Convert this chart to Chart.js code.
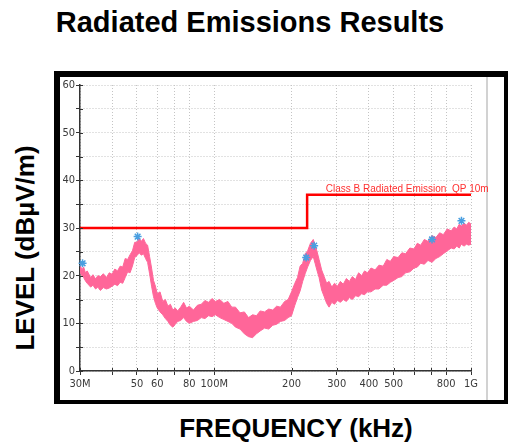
<!DOCTYPE html>
<html>
<head>
<meta charset="utf-8">
<title>Radiated Emissions Results</title>
<script src="https://cdn.jsdelivr.net/npm/chart.js@4.4.0/dist/chart.umd.min.js"></script>
<style>
  html, body { margin: 0; padding: 0; background: #fff; }
  body { width: 508px; height: 445px; position: relative; overflow: hidden; font-family: "Liberation Sans", Arial, sans-serif; }
  .lbl { position: absolute; font-weight: bold; color: #000; white-space: nowrap; line-height: 1; }
  #title { left: 250px; top: 8px; font-size: 29px; transform: translateX(-50%); }
  #ytitle { left: 25px; top: 248px; font-size: 26px; transform: translate(-50%, -50%) rotate(-90deg); }
  #xtitle { left: 296px; top: 415px; font-size: 26px; transform: translateX(-50%); }
  #frame { position: absolute; left: 54px; top: 71px; width: 444px; height: 323px;
           border-style: solid; border-color: #000; border-width: 6px 4px 4px 6px; }
  canvas { display: block; }
</style>
</head>
<body>

<div id="title" class="lbl">Radiated Emissions Results</div>
<div id="ytitle" class="lbl">LEVEL (dBµV/m)</div>
<div id="xtitle" class="lbl">FREQUENCY (kHz)</div>
<div id="frame"><canvas id="chart" width="444" height="323"></canvas></div>

<script>
/* =============================
   DATA
============================= */

// trace: upper / lower edge of the measured band (MHz, dBuV/m)
const freqMHz = [
    30, 30.5, 31, 31.5, 32, 33, 33.7, 34.5, 35.2, 36,
    37, 38, 39, 40, 41, 42, 43, 44, 45, 46,
    47, 48, 49, 50, 51, 52, 53, 54, 55, 56,
    57, 58, 59, 60, 61.5, 63, 64.5, 66, 67.5, 69,
    70.5, 72, 74, 76, 78, 80, 83, 86, 89, 92,
    95, 98, 101, 105, 109, 113, 117, 121, 126, 131,
    136, 141, 146, 151, 157, 163, 169, 175, 181, 188,
    194, 200, 206, 211, 216, 221, 226, 231, 237, 243,
    247, 251, 256, 262, 268, 274, 280, 287, 294, 302,
    310, 318, 327, 336, 345, 355, 365, 375, 385, 395,
    408, 423, 438, 455, 470, 485, 500, 520, 538, 556,
    578, 600, 618, 637, 658, 680, 705, 730, 755, 780,
    808, 837, 860, 880, 900, 916, 940, 960, 980, 1000
];

const levelHigh = [
    22.4, 21.2, 21.8, 20.6, 21.0, 19.6, 20.2, 19.3, 20.0, 19.8,
    20.4, 19.6, 20.6, 20.3, 21.4, 21.0, 22.0, 21.8, 23.6, 23.4,
    24.4, 25.2, 27.0, 27.0, 27.8, 27.2, 27.8, 26.8, 26.4, 24.0,
    21.6, 19.0, 17.8, 16.2, 16.6, 14.6, 15.0, 13.6, 14.0, 12.8,
    13.2, 12.6, 13.4, 14.4, 13.2, 13.6, 12.8, 13.8, 14.0, 14.8,
    14.4, 15.2, 14.6, 15.0, 14.2, 14.6, 13.4, 13.4, 12.2, 12.4,
    11.2, 11.8, 11.6, 12.6, 12.4, 13.0, 12.8, 13.6, 13.4, 14.6,
    15.0, 16.6, 18.4, 19.6, 22.0, 22.6, 24.6, 25.2, 26.8, 27.6,
    26.4, 25.2, 23.4, 21.2, 19.8, 18.4, 18.8, 17.6, 18.4, 17.8,
    18.8, 18.2, 19.4, 18.8, 19.8, 19.2, 20.6, 20.0, 21.0, 20.6,
    21.6, 21.2, 22.2, 22.0, 23.4, 23.0, 24.0, 23.8, 24.8, 24.6,
    25.8, 25.6, 26.8, 26.4, 27.6, 27.2, 28.4, 28.0, 29.0, 28.6,
    29.8, 29.4, 30.2, 29.8, 30.8, 30.4, 31.0, 30.6, 31.2, 30.8
];

const levelLow = [
    20.8, 20.0, 19.6, 18.9, 18.4, 17.6, 18.0, 17.2, 17.6, 16.9,
    17.5, 17.2, 17.4, 17.8, 18.2, 17.9, 18.6, 18.4, 19.6, 20.8,
    20.6, 22.0, 23.8, 24.2, 24.8, 24.3, 24.6, 23.6, 22.8, 20.4,
    17.8, 15.6, 14.2, 13.2, 12.4, 11.8, 11.0, 10.4, 9.6, 9.2,
    9.8, 10.4, 10.6, 11.2, 10.4, 10.0, 10.4, 10.6, 11.2, 11.0,
    11.6, 11.4, 11.8, 11.2, 10.8, 10.4, 10.0, 9.2, 8.8, 7.8,
    7.2, 7.0, 7.8, 8.4, 9.0, 8.8, 9.6, 9.8, 10.4, 10.6,
    11.2, 11.6, 13.8, 15.4, 16.8, 18.8, 20.4, 21.8, 23.2, 24.0,
    22.6, 21.2, 19.6, 17.0, 15.6, 14.2, 13.4, 14.4, 14.0, 14.8,
    14.4, 15.0, 14.6, 15.4, 15.0, 15.8, 15.6, 16.2, 16.0, 16.6,
    16.6, 17.2, 17.2, 18.0, 18.0, 18.6, 19.0, 19.6, 19.8, 20.6,
    20.8, 21.6, 21.8, 22.6, 22.4, 23.2, 22.8, 23.6, 24.0, 24.6,
    25.2, 25.8, 25.6, 26.2, 25.8, 26.6, 26.2, 26.6, 26.4, 26.6
];

// limit line
const limitName = "Class B Radiated Emission  QP 10m";
const limitFreq = [30, 230, 230, 1000];
const limitLevel = [30, 30, 37, 37];

// peak markers
const peakFreq = [30.7, 50.3, 228, 245, 705, 918];
const peakLevel = [22.6, 28.2, 23.8, 26.3, 27.6, 31.5];

// axes
const xTicks = [30, 40, 50, 60, 70, 80, 100, 200, 300, 400, 500, 600, 700, 800, 1000];
const xTickLabels = ["30M", "", "50", "60", "", "80", "100M", "200", "300", "400", "500", "", "", "800", "1G"];
const yTicks = [0, 5, 10, 15, 20, 25, 30, 35, 40, 45, 50, 55, 60];
const yTickLabels = ["0", "", "10", "", "20", "", "30", "", "40", "", "50", "", "60"];

/* =============================
   CHART
============================= */

const tickFont = { family: "'Liberation Sans Narrow', 'DejaVu Sans Condensed', 'Liberation Sans', Arial", size: 11 };
const traceColor = "#ff6699";

const toPoints = (xs, ys) => xs.map((v, i) => ({ x: v, y: ys[i] }));

const extras = {
    id: "extras",
    beforeDraw(chart) {
        // light grey rule at the right of the plot box
        const ctx = chart.ctx;
        ctx.save();
        ctx.fillStyle = "#d2d2d2";
        ctx.fillRect(426, 0, 2, chart.height);
        ctx.restore();
    },
    afterDatasetsDraw(chart) {
        const { ctx, scales: { x, y } } = chart;
        ctx.save();
        ctx.fillStyle = "#ff3030";
        ctx.font = "10px 'Liberation Sans Narrow', 'Liberation Sans', Arial";
        ctx.textAlign = "left";
        ctx.textBaseline = "alphabetic";
        ctx.fillText(limitName, x.getPixelForValue(272), y.getPixelForValue(limitLevel[3]) - 3);
        ctx.restore();
    },
    afterDraw(chart) {
        // tick marks also cross into the plot
        const { ctx, scales: { x, y } } = chart;
        ctx.save();
        ctx.strokeStyle = "#333";
        ctx.lineWidth = 1;
        ctx.beginPath();
        x.ticks.forEach(t => {
            const px = Math.round(x.getPixelForValue(t.value)) + 0.5;
            ctx.moveTo(px, y.bottom);
            ctx.lineTo(px, y.bottom - 3);
        });
        y.ticks.forEach(t => {
            const py = Math.round(y.getPixelForValue(t.value)) + 0.5;
            ctx.moveTo(x.left, py);
            ctx.lineTo(x.left + 3, py);
        });
        ctx.stroke();
        ctx.restore();
    }
};

new Chart(document.getElementById("chart"), {
    type: "line",
    data: {
        datasets: [
            {
                data: toPoints(freqMHz, levelLow),
                borderColor: traceColor,
                borderWidth: 1,
                pointRadius: 0,
                fill: false,
                order: 3
            },
            {
                data: toPoints(freqMHz, levelHigh),
                borderColor: traceColor,
                backgroundColor: traceColor,
                borderWidth: 1,
                pointRadius: 0,
                fill: "-1",
                order: 3
            },
            {
                data: toPoints(limitFreq, limitLevel),
                borderColor: "#ff0000",
                borderWidth: 2.5,
                pointRadius: 0,
                fill: false,
                order: 2
            },
            {
                data: toPoints(peakFreq, peakLevel),
                showLine: false,
                pointStyle: "star",
                pointRadius: 4,
                borderColor: "#4a9fe0",
                borderWidth: 1.5,
                clip: false,
                order: 1
            }
        ]
    },
    options: {
        responsive: false,
        animation: false,
        layout: { padding: { left: 0, top: 8, right: 33, bottom: 0 } },
        plugins: { legend: { display: false }, tooltip: { enabled: false } },
        scales: {
            x: {
                type: "logarithmic",
                min: 30,
                max: 1000,
                afterBuildTicks: s => { s.ticks = xTicks.map(v => ({ value: v })); },
                afterFit: s => { s.height = 29; },
                ticks: {
                    autoSkip: false,
                    maxRotation: 0,
                    color: "#3a3a3a",
                    font: tickFont,
                    padding: 3,
                    callback: v => xTickLabels[xTicks.indexOf(v)]
                },
                grid: { color: "#c4c4c4", lineWidth: 1, tickColor: "#333", tickLength: 4 },
                border: { color: "#333", width: 1.5, dash: [1, 2] }
            },
            y: {
                min: 0,
                max: 60,
                afterBuildTicks: s => { s.ticks = yTicks.map(v => ({ value: v })); },
                afterFit: s => { s.width = 20; },
                ticks: {
                    color: "#3a3a3a",
                    font: tickFont,
                    padding: 1,
                    callback: v => yTickLabels[yTicks.indexOf(v)]
                },
                grid: { color: "#c4c4c4", lineWidth: 1, tickColor: "#333", tickLength: 4 },
                border: { color: "#333", width: 1.5, dash: [1, 2] }
            }
        }
    },
    plugins: [extras]
});
</script>
</body>
</html>
